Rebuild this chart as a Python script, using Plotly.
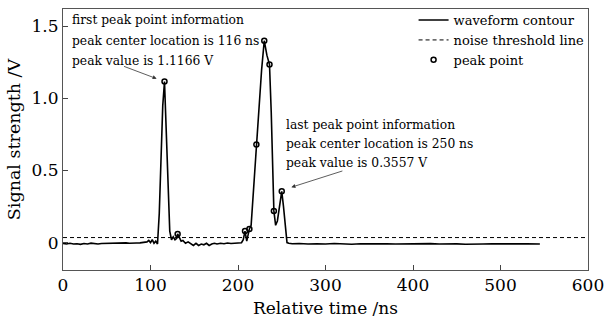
import plotly.graph_objects as go

# waveform contour (ns, V)
time_ns = [0, 4, 8, 12, 16, 20, 24, 28, 32, 36, 40, 44, 48, 52, 56, 60, 64, 68, 72, 76,
           80, 84, 88, 92, 96, 98, 100, 102, 104, 106, 108, 110, 112, 114, 116, 118, 120,
           122, 124, 126, 128, 130, 131, 133, 135, 137, 140, 143, 146, 149, 152, 155, 158,
           161, 164, 167, 170, 173, 176, 180, 184, 188, 192, 196, 200, 204, 206, 208, 210,
           213, 215, 218, 221, 224, 227, 230, 233, 236, 238, 241, 243, 245, 248, 250, 252,
           254, 256, 258, 262, 270, 280, 290, 300, 310, 320, 330, 340, 350, 360, 370, 380,
           390, 400, 410, 420, 430, 440, 450, 460, 470, 480, 490, 500, 510, 520, 530, 545]
signal_v = [-0.005, -0.01, -0.005, -0.01, -0.008, -0.012, -0.006, -0.01, -0.004, -0.008,
            -0.01, -0.006, -0.005, -0.008, -0.003, -0.006, -0.002, -0.005, -0.002, -0.004,
            -0.001, -0.003, -0.002, 0.0, 0.005, 0.015, 0.0, 0.02, -0.005, 0.01, -0.01, 0.2,
            0.6, 0.95, 1.1166, 0.8, 0.35, 0.08, 0.02, 0.04, 0.02, 0.03, 0.06, 0.03, 0.01,
            0.015, -0.005, 0.005, -0.01, -0.02, -0.005, -0.02, -0.01, -0.015, -0.005, -0.02,
            -0.01, -0.005, -0.01, -0.005, -0.008, -0.003, -0.006, -0.003, -0.002, -0.001,
            0.02, 0.08, 0.01, 0.095, 0.12, 0.4, 0.68, 0.9, 1.2, 1.40, 1.3, 1.235, 0.9, 0.22,
            0.12, 0.15, 0.28, 0.3557, 0.25, 0.1, 0.0, -0.005, -0.008, -0.006, -0.01, -0.008,
            -0.01, -0.006, -0.009, -0.011, -0.008, -0.01, -0.007, -0.009, -0.01, -0.008,
            -0.01, -0.009, -0.007, -0.01, -0.008, -0.009, -0.011, -0.008, -0.01, -0.009,
            -0.008, -0.01, -0.009, -0.008, -0.01]

threshold_x = [0, 600]
threshold_y = [0.035, 0.035]

peak_t = [116, 131, 208, 213, 221, 230, 236, 241, 250]
peak_v = [1.1166, 0.06, 0.08, 0.095, 0.68, 1.40, 1.235, 0.22, 0.3557]

x_ticks = [0, 100, 200, 300, 400, 500, 600]
y_ticks = [0, 0.5, 1.0, 1.5]
y_tick_text = ["0", "0.5", "1.0", "1.5"]

first_info = ["first peak point information",
              "peak center location is 116 ns",
              "peak value is 1.1166 V"]
first_info_t = 8
first_info_v = [1.541, 1.397, 1.262]
first_arrow = dict(tail=(68, 1.226), head=(107, 1.137))

last_info = ["last peak point information",
             "peak center location is 250 ns",
             "peak value is 0.3557 V"]
last_info_t = 253
last_info_v = [0.815, 0.685, 0.55]
last_arrow = dict(tail=(321, 0.50), head=(261, 0.384))

FONT = "DejaVu Serif"

fig = go.Figure()
fig.add_trace(go.Scatter(x=time_ns, y=signal_v, mode="lines", name="waveform contour",
                         line=dict(color="black", width=1.6)))
fig.add_trace(go.Scatter(x=threshold_x, y=threshold_y, mode="lines", name="noise threshold line",
                         line=dict(color="black", width=1, dash="4px,3px")))
fig.add_trace(go.Scatter(x=peak_t, y=peak_v, mode="markers", name="peak point",
                         marker=dict(symbol="circle-open", color="black", size=5,
                                     line=dict(width=1.5, color="black"))))

for lines, t0, vs in [(first_info, first_info_t, first_info_v),
                      (last_info, last_info_t, last_info_v)]:
    for txt, v in zip(lines, vs):
        fig.add_annotation(x=t0, y=v, text=txt, showarrow=False, xanchor="left",
                           yanchor="middle", font=dict(family=FONT, size=12.3, color="black"))

for arr in [first_arrow, last_arrow]:
    fig.add_annotation(x=arr["head"][0], y=arr["head"][1], ax=arr["tail"][0], ay=arr["tail"][1],
                       axref="x", ayref="y", xref="x", yref="y", text="", showarrow=True,
                       arrowhead=2, arrowsize=1, arrowwidth=0.8, arrowcolor="#333")

fig.update_layout(
    width=609, height=324,
    margin=dict(l=63, r=19, t=5, b=54),
    paper_bgcolor="white", plot_bgcolor="white",
    font=dict(family=FONT, color="black", size=16),
    showlegend=True,
    legend=dict(x=1.003, y=1.015, xanchor="right", yanchor="top", bgcolor="rgba(0,0,0,0)",
                font=dict(family=FONT, size=13), itemwidth=30, tracegroupgap=0),
    xaxis=dict(range=[0, 600], tickvals=x_ticks, ticks="inside", ticklen=5,
               showline=True, linecolor="#555", mirror=True, showgrid=False, zeroline=False,
               title=dict(text="Relative time /ns", font=dict(size=17), standoff=7),
               tickfont=dict(size=17)),
    yaxis=dict(range=[-0.19, 1.62], tickvals=y_ticks, ticktext=y_tick_text, ticks="inside",
               ticklen=5, showline=True, linecolor="#555", mirror=True, showgrid=False,
               zeroline=False,
               title=dict(text="Signal strength /V", font=dict(size=17.5), standoff=6),
               tickfont=dict(size=17)),
)

fig.write_html("out.html")
